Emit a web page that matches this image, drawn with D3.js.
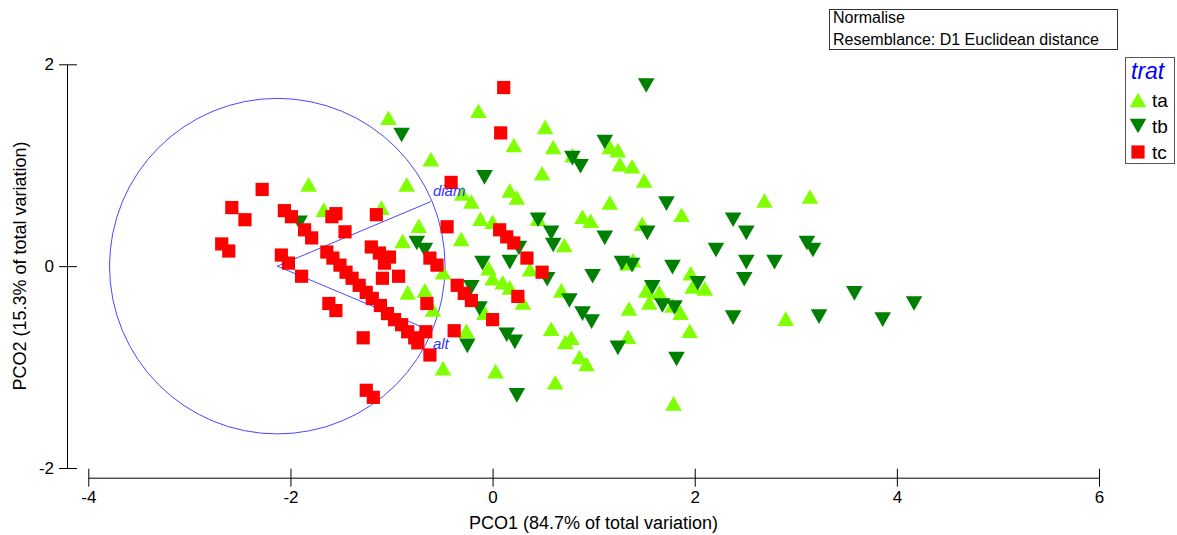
<!DOCTYPE html>
<html>
<head>
<meta charset="utf-8">
<script src="https://cdn.jsdelivr.net/npm/d3@7"></script>
<style>
  body { margin: 0; background: #fff; }
  svg { font-family: "Liberation Sans", Arial, sans-serif; }
</style>
</head>
<body>
<div id="chart"></div>
<script>
// PCO scores per group [PCO1, PCO2]
var ta = [
  [-1.03,1.47],[-0.61,1.06],[-0.85,0.81],[-1.82,0.81],[-1.67,0.56],[-1.10,0.58],[-0.73,0.40],[-0.89,0.25],
  [-0.84,-0.26],[-0.67,-0.24],[-0.59,-0.43],[-0.49,-1.01],[-0.49,-0.06],
  [-0.14,1.54],[0.52,1.38],[0.21,1.20],[0.60,1.18],[0.79,1.10],[1.16,1.18],[1.24,1.15],[1.26,1.01],[1.38,0.99],
  [1.50,0.85],[0.49,0.92],[0.17,0.75],[0.24,0.68],[-0.30,0.72],[-0.21,0.64],[1.16,0.63],[-0.12,0.47],[0.00,0.44],
  [0.45,0.47],[0.89,0.49],[0.97,0.45],[-0.31,0.27],[0.71,0.21],[1.48,0.42],
  [-0.04,-0.02],[0.00,-0.12],[0.10,-0.16],[0.17,-0.21],[-0.08,-0.46],[0.30,-0.36],[0.37,-0.03],[0.68,-0.24],
  [-0.26,-0.64],[0.58,-0.62],[0.72,-0.75],[0.78,-0.71],[0.86,-0.90],[0.93,-0.97],[1.35,-0.42],[1.34,-0.70],
  [0.03,-1.04],[0.62,-1.15],[1.33,0.03],[1.39,0.06],[1.52,-0.24],
  [1.87,0.51],[2.69,0.65],[3.14,0.69],[1.96,-0.07],[1.98,-0.20],[2.10,-0.22],[1.65,-0.26],[1.55,-0.36],
  [1.78,-0.39],[1.86,-0.46],[1.95,-0.64],[2.90,-0.52],[1.79,-1.36]
];
var tb = [
  [-0.90,1.30],[-1.91,0.43],[-0.75,0.23],[-0.67,0.16],[1.52,1.79],[1.11,1.23],[0.79,1.07],[0.87,0.99],
  [-0.08,0.88],[0.45,0.46],[0.58,0.33],[0.60,0.21],[1.11,0.28],[1.53,0.33],[-0.10,0.03],[0.17,0.04],
  [0.26,0.18],[-0.21,-0.21],[-0.13,-0.42],[0.54,-0.13],[0.99,-0.10],[0.76,-0.34],[0.89,-0.47],[0.98,-0.55],
  [0.14,-0.68],[0.22,-0.75],[-0.25,-0.79],[1.24,-0.81],[0.24,-1.28],[1.28,0.03],[1.38,0.01],[1.72,0.62],
  [2.38,0.46],[2.51,0.33],[3.11,0.23],[3.17,0.16],[2.21,0.16],[2.51,0.04],[2.79,0.04],[2.49,-0.13],
  [1.78,-0.01],[2.03,-0.17],[1.58,-0.21],[1.68,-0.39],[1.80,-0.41],[2.38,-0.51],[3.23,-0.50],[3.58,-0.27],
  [3.86,-0.53],[4.17,-0.37],[1.82,-0.92]
];
var tc = [
  [0.11,1.77],[0.08,1.32],[-2.28,0.76],[-2.58,0.58],[-2.45,0.46],[-2.68,0.22],[-2.61,0.15],[-2.09,0.11],
  [-2.02,0.03],[-1.89,-0.10],[-2.06,0.55],[-1.99,0.49],[-1.86,0.36],[-1.79,0.28],[-1.59,0.49],[-1.55,0.52],
  [-1.46,0.34],[-1.15,0.51],
  [-1.64,0.14],[-1.58,0.08],[-1.51,0.01],[-1.45,-0.06],[-1.39,-0.12],[-1.32,-0.19],[-1.25,-0.26],[-1.19,-0.32],
  [-1.11,-0.39],[-1.04,-0.47],[-0.97,-0.53],[-0.90,-0.58],[-0.84,-0.65],[-0.77,-0.71],[-0.74,-0.76],
  [-1.20,0.19],[-1.12,0.13],[-1.02,0.09],[-1.07,0.03],[-1.09,-0.12],[-0.93,-0.10],[-1.62,-0.37],[-1.55,-0.44],
  [-1.28,-0.71],[-1.25,-1.23],[-1.18,-1.30],[-0.65,-0.37],[-0.62,0.08],[-0.55,0.01],[-0.45,0.39],[-0.41,0.83],
  [-0.35,-0.19],[-0.28,-0.27],[-0.21,-0.34],[0.00,-0.53],[-0.38,-0.64],[-0.62,-0.88],[-0.66,-0.65],
  [0.25,-0.30],[0.34,0.08],[0.49,-0.06],[0.07,0.36],[0.14,0.29],[0.21,0.23]
];
var groups = ["ta", "tb", "tc"];
var xTicks = [-4, -2, 0, 2, 4, 6];
var yTicks = [-2, 0, 2];
// vector overlay: circle centre / radius and variable end points
var circleCentre = [-2.13, 0];
var circleRadius = 1.66;
var vectors = [
  {name: "diam", end: [-0.61, 0.64]},
  {name: "alt", end: [-0.61, -0.64]}
];

var colors = {ta: "#80ff00", tb: "#008000", tc: "#ff0000"};
var font = "'Liberation Sans', Arial, sans-serif";

var svg = d3.select("#chart").append("svg").attr("width", 1177).attr("height", 535);

var x = d3.scaleLinear().domain([-4, 6]).range([88.3, 1099]);
var y = d3.scaleLinear().domain([-2, 2]).range([468, 64.3]);

// plain hyphen for negatives, as in the original
var fmt = function(d) { return String(d); };

// marker shapes
function marker(g) {
  if (g === "ta") return "M0,-7.3L8.3,7.3L-8.3,7.3Z";
  if (g === "tb") return "M-8.3,-7.3L8.3,-7.3L0,7.3Z";
  return "M-6.6,-6.6h13.2v13.2h-13.2Z";
}

// axes
var gx = svg.append("g")
  .attr("transform", "translate(0,477.7)")
  .call(d3.axisBottom(x).tickValues(xTicks).tickFormat(fmt).tickSizeInner(9).tickSizeOuter(0).tickPadding(4))
  .attr("font-size", 17).attr("font-family", font);
gx.selectAll(".tick line").attr("y1", -9);
gx.selectAll("text").attr("fill", "#000");

var gy = svg.append("g")
  .attr("transform", "translate(67,0)")
  .call(d3.axisLeft(y).tickValues(yTicks).tickFormat(fmt).tickSizeInner(8).tickSizeOuter(0).tickPadding(5))
  .attr("font-size", 17).attr("font-family", font);
gy.selectAll(".tick line").attr("x1", 10);
gy.selectAll("text").attr("fill", "#000");

svg.selectAll(".domain, .tick line").attr("stroke", "#000");

svg.append("text")
  .attr("x", 593.5).attr("y", 529)
  .attr("text-anchor", "middle")
  .style("font-size", "18px")
  .text("PCO1 (84.7% of total variation)");

svg.append("text")
  .attr("transform", "translate(26,266) rotate(-90)")
  .attr("text-anchor", "middle")
  .style("font-size", "18px")
  .text("PCO2 (15.3% of total variation)");

// vector circle
svg.append("circle")
  .attr("cx", x(circleCentre[0]))
  .attr("cy", y(circleCentre[1]))
  .attr("r", x(circleCentre[0] + circleRadius) - x(circleCentre[0]))
  .attr("fill", "none")
  .attr("stroke", "#4747ff")
  .attr("stroke-width", 1);

svg.selectAll(".vec").data(vectors).enter().append("line")
  .attr("x1", x(circleCentre[0])).attr("y1", y(circleCentre[1]))
  .attr("x2", function(d) { return x(d.end[0]); })
  .attr("y2", function(d) { return y(d.end[1]); })
  .attr("stroke", "#4747ff")
  .attr("stroke-width", 1);

// points
groups.forEach(function(g) {
  var pts = {ta: ta, tb: tb, tc: tc}[g];
  svg.append("g").selectAll("path").data(pts).enter().append("path")
    .attr("transform", function(d) { return "translate(" + x(d[0]) + "," + y(d[1]) + ")"; })
    .attr("d", marker(g))
    .attr("fill", colors[g]);
});

// vector labels on top
svg.selectAll(".vlab").data(vectors).enter().append("text")
  .attr("x", function(d) { return x(d.end[0]) + 2; })
  .attr("y", function(d) { return y(d.end[1]) + (d.end[1] > 0 ? -6 : 18); })
  .style("font-size", "15px")
  .style("font-style", "italic")
  .attr("fill", "#3333ff")
  .text(function(d) { return d.name; });

// info box
svg.append("rect").attr("x", 829.5).attr("y", 9.5).attr("width", 288).attr("height", 40)
  .attr("fill", "#fff").attr("stroke", "#333");
svg.append("text").attr("x", 833).attr("y", 23).style("font-size", "16px").text("Normalise");
svg.append("text").attr("x", 833).attr("y", 45).style("font-size", "16px").text("Resemblance: D1 Euclidean distance");

// legend
var lg = svg.append("g");
lg.append("rect").attr("x", 1125.5).attr("y", 57.5).attr("width", 49).attr("height", 106)
  .attr("fill", "#fff").attr("stroke", "#555");
lg.append("text").attr("x", 1131).attr("y", 79)
  .style("font-size", "23px").style("font-style", "italic").attr("fill", "#0000ff").text("trat");
groups.forEach(function(g, i) {
  var cy = 100 + i * 26;
  lg.append("path").attr("transform", "translate(1138," + cy + ")").attr("d", marker(g)).attr("fill", colors[g]);
  lg.append("text").attr("x", 1152).attr("y", cy + 6.5).style("font-size", "19px").text(g);
});
</script>
</body>
</html>
